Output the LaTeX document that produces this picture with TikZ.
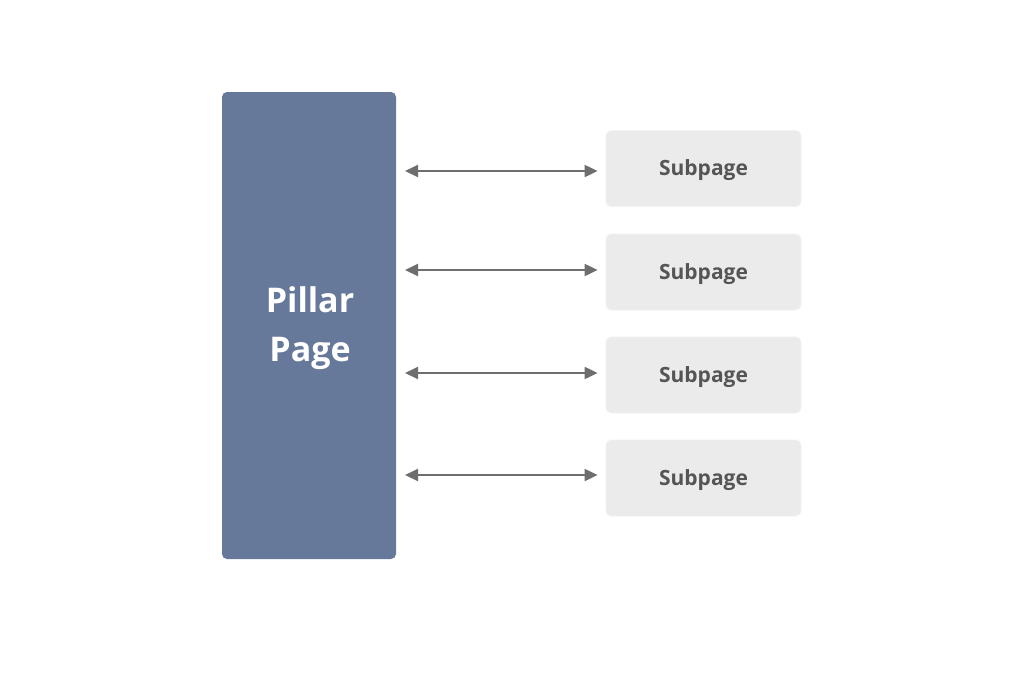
\documentclass[tikz,border=0pt]{standalone}
\usepackage{fontspec}
\setmainfont{Open Sans}
\usetikzlibrary{arrows.meta}

\definecolor{pillarblue}{HTML}{67799B}
\definecolor{subgray}{HTML}{EBEBEB}
\definecolor{arrowgray}{HTML}{6E6E6E}
\definecolor{textgray}{HTML}{555555}

\begin{document}
\begin{tikzpicture}[x=1pt,y=-1pt,
    pillar/.style={fill=pillarblue,rounded corners=5pt,minimum width=174pt,minimum height=467pt,
        text=white,font=\fontsize{34}{49}\selectfont\bfseries,align=center,inner sep=0pt},
    sub/.style={fill=subgray,draw=subgray!60!white,line width=0.8pt,rounded corners=5pt,
        minimum width=195pt,minimum height=76pt,text=textgray,font=\fontsize{21}{24}\selectfont\bfseries},
    link/.style={{Triangle[length=13pt,width=12pt]}-{Triangle[length=13pt,width=12pt]},
        draw=arrowgray,line width=2pt}]
    \useasboundingbox (0,0) rectangle (1024,683);
    \fill[white] (0,0) rectangle (1024,683);

    \node[pillar] (P) at (309,325.5) {};
    \node[text=white,font=\fontsize{34}{49}\selectfont\bfseries,align=center] (Pt) at (310,328.5) {Pillar\\Page};

    \node[sub] (S1) at (703.5,168.5) {};
    \node[sub] (S2) at (703.5,272) {};
    \node[sub] (S3) at (703.5,375) {};
    \node[sub] (S4) at (703.5,478) {};
    \foreach \i in {1,...,4}
        \node[text=textgray,font=\fontsize{21}{24}\selectfont\bfseries] (L\i) at ([yshift=-2pt]S\i.center) {Subpage};

    \coordinate (a1) at (405,171);
    \coordinate (a2) at (405,270);
    \coordinate (a3) at (405,373);
    \coordinate (a4) at (405,475);

    \draw[link] (a1) -- ([xshift=-8pt]S1.west |- a1);
    \draw[link] (a2) -- ([xshift=-8pt]S2.west |- a2);
    \draw[link] (a3) -- ([xshift=-8pt]S3.west |- a3);
    \draw[link] (a4) -- ([xshift=-8pt]S4.west |- a4);
\end{tikzpicture}
\end{document}
